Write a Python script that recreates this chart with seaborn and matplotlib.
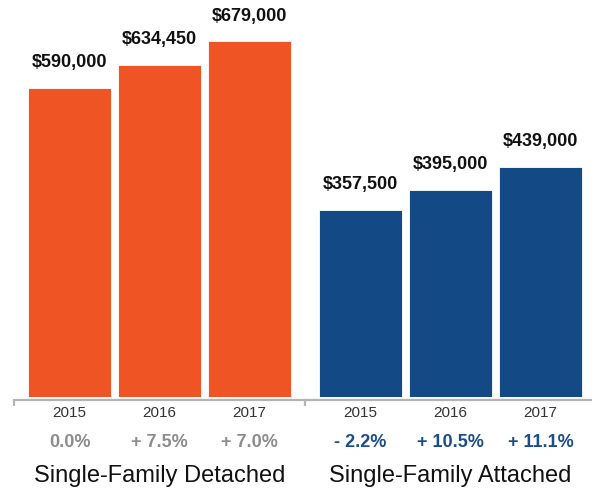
import matplotlib
matplotlib.use("Agg")
import matplotlib.pyplot as plt
import seaborn as sns
import pandas as pd

# ---- data ----
years = ["2015", "2016", "2017"]
detached_prices = [590000, 634450, 679000]
attached_prices = [357500, 395000, 439000]
detached_changes = ["0.0%", "+ 7.5%", "+ 7.0%"]
attached_changes = ["- 2.2%", "+ 10.5%", "+ 11.1%"]
group_titles = ["Single-Family Detached", "Single-Family Attached"]

ORANGE = "#EF5424"
BLUE = "#134A86"
GRAY_TXT = "#8C8C8C"
BLUE_TXT = "#1B4D8C"
AXIS_GRAY = "#B4B4B4"

sns.set_theme(style="white")
plt.rcParams['font.family'] = ['Liberation Sans', 'DejaVu Sans']

W, H = 592, 491
fig = plt.figure(figsize=(W / 100, H / 100), dpi=100)
fig.patch.set_facecolor("white")

BASE = 397  # px from top where bars start
PITCH = 90.0  # px per category


def px_axes(x0, x1):
    return fig.add_axes([x0 / W, (H - BASE) / H, (x1 - x0) / W, BASE / H])


groups = [
    (detached_prices, detached_changes, ORANGE, GRAY_TXT, group_titles[0], 14, 305, 69.5),
    (attached_prices, attached_changes, BLUE, BLUE_TXT, group_titles[1], 305, 592, 360.5),
]

for prices, changes, color, pct_color, title, x0, x1, first_center in groups:
    ax = px_axes(x0, x1)
    df = pd.DataFrame({"year": years, "price": prices})
    sns.barplot(data=df, x="year", y="price", ax=ax, color=color,
                saturation=1, width=83 / PITCH, edgecolor="white", linewidth=0.6)
    ax.set_xlim((x0 - first_center) / PITCH, (x1 - first_center) / PITCH)
    ax.set_ylim(0, 758000)
    ax.set_xlabel("")
    ax.set_ylabel("")
    ax.set_yticks([])
    for s in ["top", "right", "left"]:
        ax.spines[s].set_visible(False)
    ax.spines["bottom"].set_position(("outward", 2.3))
    ax.spines["bottom"].set_color(AXIS_GRAY)
    ax.spines["bottom"].set_linewidth(1.6)
    ax.set_xticks(range(len(years)))
    ax.set_xticklabels(years, fontsize=11, color="#333333")
    ax.tick_params(axis="x", which="major", bottom=False, length=0, pad=4)
    ax.set_xticks([(x0 - first_center) / PITCH], minor=True)
    ax.tick_params(axis="x", which="minor", bottom=True, direction="out",
                   length=4.5, width=1.6, color=AXIS_GRAY)
    ax.set_facecolor("none")

    ax.bar_label(ax.containers[0], labels=[f"${v:,}" for v in prices],
                 padding=12, fontsize=13, fontweight="bold", color="#111111")

    for i, t in enumerate(changes):
        ax.annotate(t, xy=(i, 0), xytext=(0, -33), textcoords="offset points",
                    ha="center", va="center", fontsize=13, fontweight="bold",
                    color=pct_color, annotation_clip=False)
    ax.annotate(title, xy=(1, 0), xytext=(0, -57), textcoords="offset points",
                ha="center", va="center", fontsize=17, color="#111111",
                annotation_clip=False)

fig.savefig("out.png", dpi=100)
